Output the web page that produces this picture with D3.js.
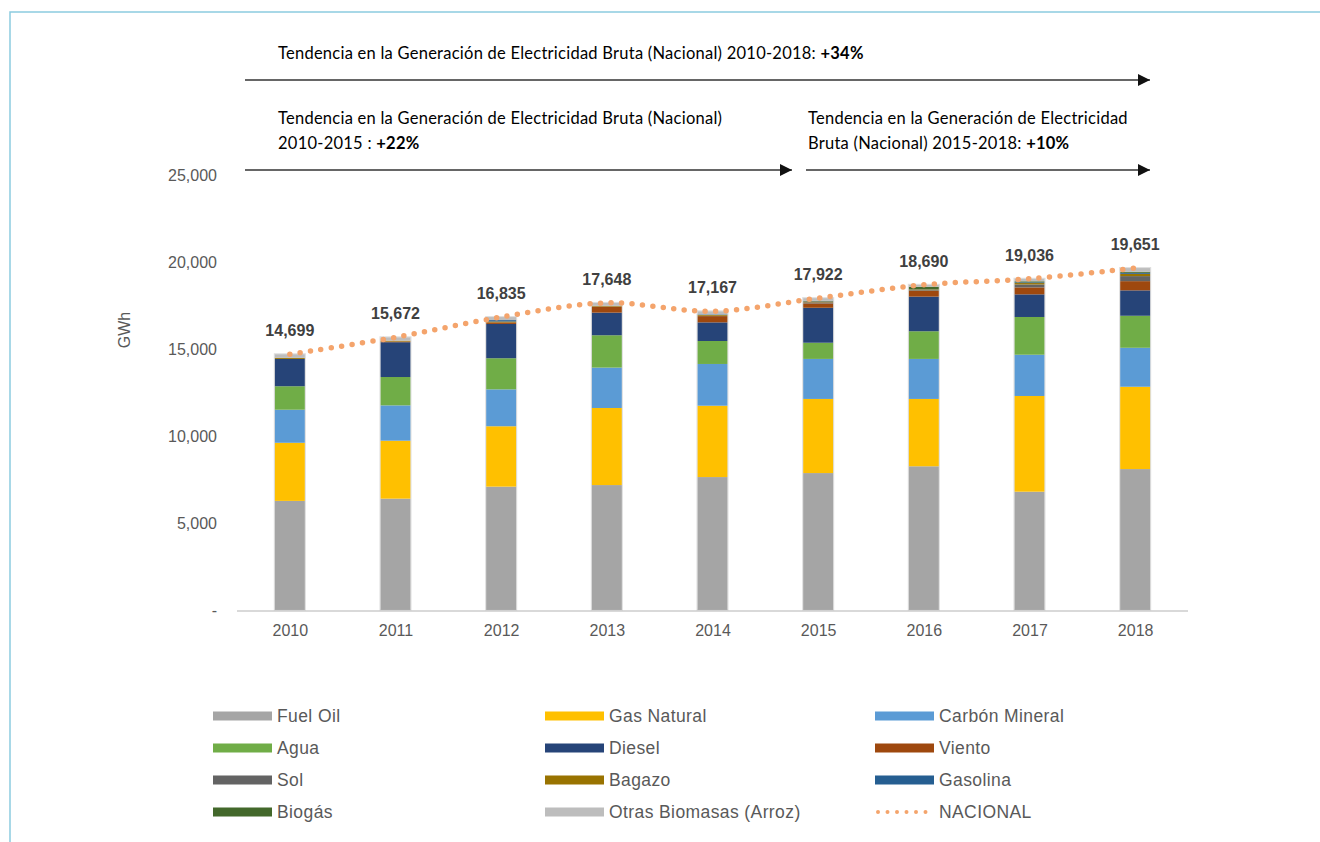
<!DOCTYPE html>
<html>
<head>
<meta charset="utf-8">
<script src="https://cdn.jsdelivr.net/npm/d3@7/dist/d3.min.js"></script>
<style>
  html, body { margin: 0; padding: 0; background: #fff; }
  svg { display: block; }
</style>
</head>
<body>
<svg id="chart" width="1320" height="842"></svg>
<script>
// ---------- DATA ----------
const years = ["2010", "2011", "2012", "2013", "2014", "2015", "2016", "2017", "2018"];
const fuelOil    = [6270, 6400, 7090, 7180, 7640, 7870, 8260, 6800, 8100];
const gasNatural = [3340, 3330, 3470, 4430, 4100, 4260, 3870, 5500, 4730];
const carbon     = [1900, 2030, 2120, 2320, 2400, 2300, 2300, 2370, 2240];
const agua       = [1350, 1630, 1790, 1860, 1320, 930, 1590, 2170, 1840];
const diesel     = [1570, 2000, 1970, 1300, 1070, 2010, 1990, 1300, 1460];
const viento     = [0, 40, 90, 340, 360, 250, 330, 400, 530];
const sol        = [0, 0, 0, 10, 20, 60, 40, 170, 290];
const bagazo     = [60, 50, 50, 40, 50, 50, 40, 80, 130];
const gasolina   = [0, 0, 80, 0, 30, 20, 10, 40, 60];
const biogas     = [0, 0, 0, 0, 0, 20, 150, 60, 60];
const otras      = [209, 192, 175, 168, 177, 152, 110, 146, 211];
const nacional   = [14699, 15672, 16835, 17648, 17167, 17922, 18690, 19036, 19651];
const yTicks     = [0, 5000, 10000, 15000, 20000, 25000];

const seriesNames = ["Fuel Oil", "Gas Natural", "Carbón Mineral", "Agua", "Diesel", "Viento",
                     "Sol", "Bagazo", "Gasolina", "Biogás", "Otras Biomasas (Arroz)"];
const seriesValues = [fuelOil, gasNatural, carbon, agua, diesel, viento, sol, bagazo, gasolina, biogas, otras];
const seriesColors = ["#a5a5a5", "#ffc000", "#5b9bd5", "#70ad47", "#264478", "#9e480e",
                      "#636363", "#997300", "#255e91", "#43682b", "#bdbdbd"];
const lineColor = "#f4a46c";

const titles = [
  { lines: [["Tendencia en la Generación de Electricidad Bruta (Nacional) 2010-2018: ", "+34%"]] },
  { lines: [["Tendencia en la Generación de Electricidad Bruta (Nacional)", ""], ["2010-2015 : ", "+22%"]] },
  { lines: [["Tendencia en la Generación de Electricidad", ""], ["Bruta (Nacional) 2015-2018: ", "+10%"]] }
];

// ---------- SETUP ----------
const svg = d3.select("#chart");
const FONT = "'Liberation Sans', Arial, Helvetica, sans-serif";
const TFONT = "Lato, 'Open Sans', sans-serif";

// frame
svg.append("path")
  .attr("d", "M10,842 L10,12 L1320,12")
  .attr("fill", "none").attr("stroke", "#8ccbe0").attr("stroke-width", 1.5);

const table = years.map((yr, i) => {
  const row = { year: yr, total: nacional[i] };
  seriesNames.forEach((n, k) => row[n] = seriesValues[k][i]);
  return row;
});

const x = d3.scalePoint().domain(years).range([237, 1188]).padding(0.5);
const y = d3.scaleLinear().domain([0, 25000]).range([610, 175]);
const barW = 30;

// y axis labels
const yAxis = d3.axisLeft(y).tickValues(yTicks)
  .tickFormat(d => d === 0 ? "-" : d3.format(",")(d)).tickSize(0).tickPadding(0);
const yg = svg.append("g").attr("transform", "translate(217,0)").call(yAxis);
yg.select(".domain").remove();
yg.selectAll("text").attr("font-family", FONT).attr("font-size", 16).attr("fill", "#595959");

// x axis
const xAxis = d3.axisBottom(x).tickSize(0).tickPadding(14);
const xg = svg.append("g").attr("transform", "translate(0,611)").call(xAxis);
xg.select(".domain").attr("stroke", "#d9d9d9").attr("stroke-width", 2)
  .attr("d", "M237,0H1188");
xg.selectAll("text").attr("font-family", FONT).attr("font-size", 16).attr("fill", "#595959");

// GWh label
svg.append("text")
  .attr("transform", "translate(130,330) rotate(-90)")
  .attr("text-anchor", "middle").attr("font-family", FONT).attr("font-size", 16)
  .attr("fill", "#595959").text("GWh");

// stacked bars
const stack = d3.stack().keys(seriesNames);
const stacked = stack(table);
const layers = svg.append("g").selectAll("g").data(stacked).join("g")
  .attr("fill", (d, i) => seriesColors[i]);
layers.selectAll("rect").data(d => d).join("rect")
  .attr("x", d => x(d.data.year) - barW / 2)
  .attr("width", barW)
  .attr("y", d => y(d[1]))
  .attr("height", d => Math.max(0, y(d[0]) - y(d[1])));

// faint bar outline
svg.append("g").selectAll("rect").data(table).join("rect")
  .attr("x", d => x(d.year) - barW / 2 - 0.5)
  .attr("width", barW + 1)
  .attr("y", d => y(d.total) - 0.5)
  .attr("height", d => y(0) - y(d.total) + 0.5)
  .attr("fill", "none").attr("stroke", "rgba(180,180,180,0.45)").attr("stroke-width", 1);

// dotted NACIONAL line
const line = d3.line().x(d => x(d.year)).y(d => y(d.total)).curve(d3.curveCatmullRom.alpha(0.5));
svg.append("path").datum(table)
  .attr("d", line)
  .attr("fill", "none").attr("stroke", lineColor).attr("stroke-width", 5.5)
  .attr("stroke-linecap", "round").attr("stroke-dasharray", "0,10.5");

// data labels
svg.append("g").selectAll("text").data(table).join("text")
  .attr("x", d => x(d.year)).attr("y", d => y(d.total) - 18)
  .attr("text-anchor", "middle").attr("font-family", FONT).attr("font-weight", "bold")
  .attr("font-size", 16).attr("fill", "#404040")
  .text(d => d3.format(",")(d.total));

// trend titles and arrows
const defs = svg.append("defs");
defs.append("marker").attr("id", "arrow").attr("viewBox", "0 0 10 10")
  .attr("refX", 10).attr("refY", 5).attr("markerWidth", 12).attr("markerHeight", 12)
  .attr("markerUnits", "userSpaceOnUse").attr("orient", "auto")
  .append("path").attr("d", "M0,0 L10,5 L0,10 Z").attr("fill", "#111");

const titlePos = [
  { x: 278, y: 59, ax1: 245, ax2: 1150, ay: 80 },
  { x: 278, y: 124, ax1: 245, ax2: 792, ay: 170 },
  { x: 808, y: 124, ax1: 806, ax2: 1150, ay: 170 }
];
titles.forEach((t, i) => {
  const p = titlePos[i];
  t.lines.forEach((ln, j) => {
    const tx = svg.append("text").attr("x", p.x).attr("y", p.y + j * 25)
      .attr("font-family", TFONT).attr("font-size", 16.5).attr("letter-spacing", 0.25)
      .attr("fill", "#000");
    tx.append("tspan").text(ln[0]);
    if (ln[1]) tx.append("tspan").attr("font-weight", "bold").text(ln[1]);
  });
  svg.append("line").attr("x1", p.ax1).attr("x2", p.ax2).attr("y1", p.ay).attr("y2", p.ay)
    .attr("stroke", "#333").attr("stroke-width", 1.5).attr("marker-end", "url(#arrow)");
});

// legend
const legendItems = seriesNames.map((n, i) => ({ name: n, color: seriesColors[i], type: "bar" }));
legendItems.push({ name: "NACIONAL", color: lineColor, type: "line" });
const colX = [213, 545, 875];
const rowY = [716, 748, 780, 812];
const lg = svg.append("g").selectAll("g").data(legendItems).join("g")
  .attr("transform", (d, i) => `translate(${colX[i % 3]},${rowY[Math.floor(i / 3)]})`);
lg.filter(d => d.type === "bar").append("rect")
  .attr("x", 0).attr("y", -4.5).attr("width", 59).attr("height", 9).attr("fill", d => d.color);
lg.filter(d => d.type === "line").append("line")
  .attr("x1", 3).attr("x2", 57).attr("y1", 0).attr("y2", 0)
  .attr("stroke", d => d.color).attr("stroke-width", 4).attr("stroke-linecap", "round")
  .attr("stroke-dasharray", "0,9.5");
lg.append("text").attr("x", 64).attr("y", 0).attr("dy", "0.36em")
  .attr("font-family", FONT).attr("font-size", 17.5).attr("letter-spacing", 0.4).attr("fill", "#595959")
  .text(d => d.name);
</script>
</body>
</html>
